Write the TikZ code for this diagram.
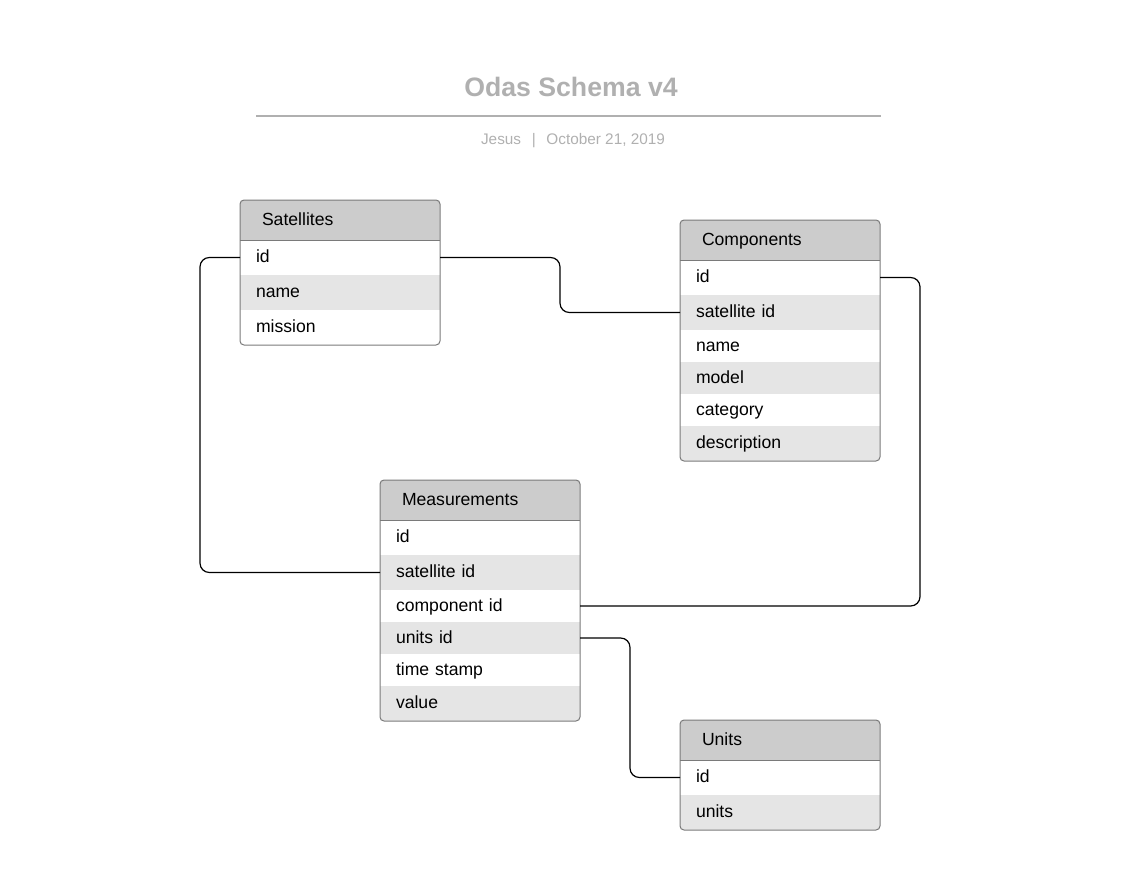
\documentclass[tikz,border=0pt]{standalone}
\usepackage{fontspec}
\setmainfont{Liberation Sans}
\usepackage{tikz}
\usetikzlibrary{positioning}
\definecolor{titlegray}{HTML}{B0B0B0}
\definecolor{framegray}{HTML}{7A7A7A}
\definecolor{headgray}{HTML}{CCCCCC}
\definecolor{rowgray}{HTML}{E5E5E5}
\tikzset{
  cell/.style={rectangle, anchor=north west, inner xsep=12pt, inner ysep=0pt,
    outer sep=0pt, text width=126pt, align=left, text height=10.8pt,
    text depth=2.8pt, minimum height=26.25pt, font=\fontsize{13.2}{15}\selectfont},
  headcell/.style={cell, fill=headgray, inner xsep=16.5pt, text width=117pt,
    minimum height=30pt},
  graycell/.style={cell, fill=rowgray},
  slim/.style={minimum height=24pt},
  tableframe/.style={draw=framegray, line width=0.75pt, rounded corners=3pt},
  link/.style={draw=black, line width=0.9pt, rounded corners=7pt}
}

\begin{document}
\begin{tikzpicture}[x=0.75pt, y=-0.75pt]
      \useasboundingbox (0, 0) rectangle (1140, 878);
      \node (title) at (571, 87) [text=titlegray, font=\fontsize{20}{24}\selectfont\bfseries] {Odas Schema v4};
      \draw[titlegray, line width=1.5pt] (256, 116) -- (881, 116);
      \node (byline) at (573, 140.5) [text=titlegray, font=\fontsize{11.5}{14}\selectfont] {Jesus\hspace{8pt}|\hspace{8pt}October 21, 2019};

      \begin{scope}
        \clip[rounded corners=3pt] (240, 200) rectangle ++(200, 145);
        \node[headcell] (sat) at (240, 200) {Satellites};
        \node[cell, below=0pt of sat] (sat_id) {id};
        \node[graycell, below=0pt of sat_id] (sat_name) {name};
        \node[cell, below=0pt of sat_name] (sat_mission) {mission};
      \end{scope}
      \draw[tableframe] (sat.north west) rectangle (sat_mission.south east);
      \draw[framegray, line width=0.75pt] (sat.south west) -- (sat.south east);

      \begin{scope}
        \clip[rounded corners=3pt] (680, 220) rectangle ++(200, 241);
        \node[headcell] (cmp) at (680, 220) {Components};
        \node[cell, below=0pt of cmp] (cmp_id) {id};
        \node[graycell, below=0pt of cmp_id] (cmp_satid) {satellite id};
        \node[cell, slim, below=0pt of cmp_satid] (cmp_name) {name};
        \node[graycell, slim, below=0pt of cmp_name] (cmp_model) {model};
        \node[cell, slim, below=0pt of cmp_model] (cmp_category) {category};
        \node[graycell, below=0pt of cmp_category] (cmp_desc) {description};
      \end{scope}
      \draw[tableframe] (cmp.north west) rectangle (cmp_desc.south east);
      \draw[framegray, line width=0.75pt] (cmp.south west) -- (cmp.south east);

      \begin{scope}
        \clip[rounded corners=3pt] (380, 480) rectangle ++(200, 241);
        \node[headcell] (mea) at (380, 480) {Measurements};
        \node[cell, below=0pt of mea] (mea_id) {id};
        \node[graycell, below=0pt of mea_id] (mea_satid) {satellite id};
        \node[cell, slim, below=0pt of mea_satid] (mea_compid) {component id};
        \node[graycell, slim, below=0pt of mea_compid] (mea_unitsid) {units id};
        \node[cell, slim, below=0pt of mea_unitsid] (mea_time) {time stamp};
        \node[graycell, below=0pt of mea_time] (mea_value) {value};
      \end{scope}
      \draw[tableframe] (mea.north west) rectangle (mea_value.south east);
      \draw[framegray, line width=0.75pt] (mea.south west) -- (mea.south east);

      \begin{scope}
        \clip[rounded corners=3pt] (680, 720) rectangle ++(200, 110);
        \node[headcell] (uni) at (680, 720) {Units};
        \node[cell, below=0pt of uni] (uni_id) {id};
        \node[graycell, below=0pt of uni_id] (uni_units) {units};
      \end{scope}
      \draw[tableframe] (uni.north west) rectangle (uni_units.south east);
      \draw[framegray, line width=0.75pt] (uni.south west) -- (uni.south east);

      \draw[link] (sat_id.east) -- ++(120, 0) |- (cmp_satid.west);
      \draw[link] (sat_id.west) -- ++(-40, 0) |- (mea_satid.west);
      \draw[link] (cmp_id.east) -- ++(40, 0) |- (mea_compid.east);
      \draw[link] (mea_unitsid.east) -- ++(50, 0) |- (uni_id.west);
    \end{tikzpicture}
\end{document}
